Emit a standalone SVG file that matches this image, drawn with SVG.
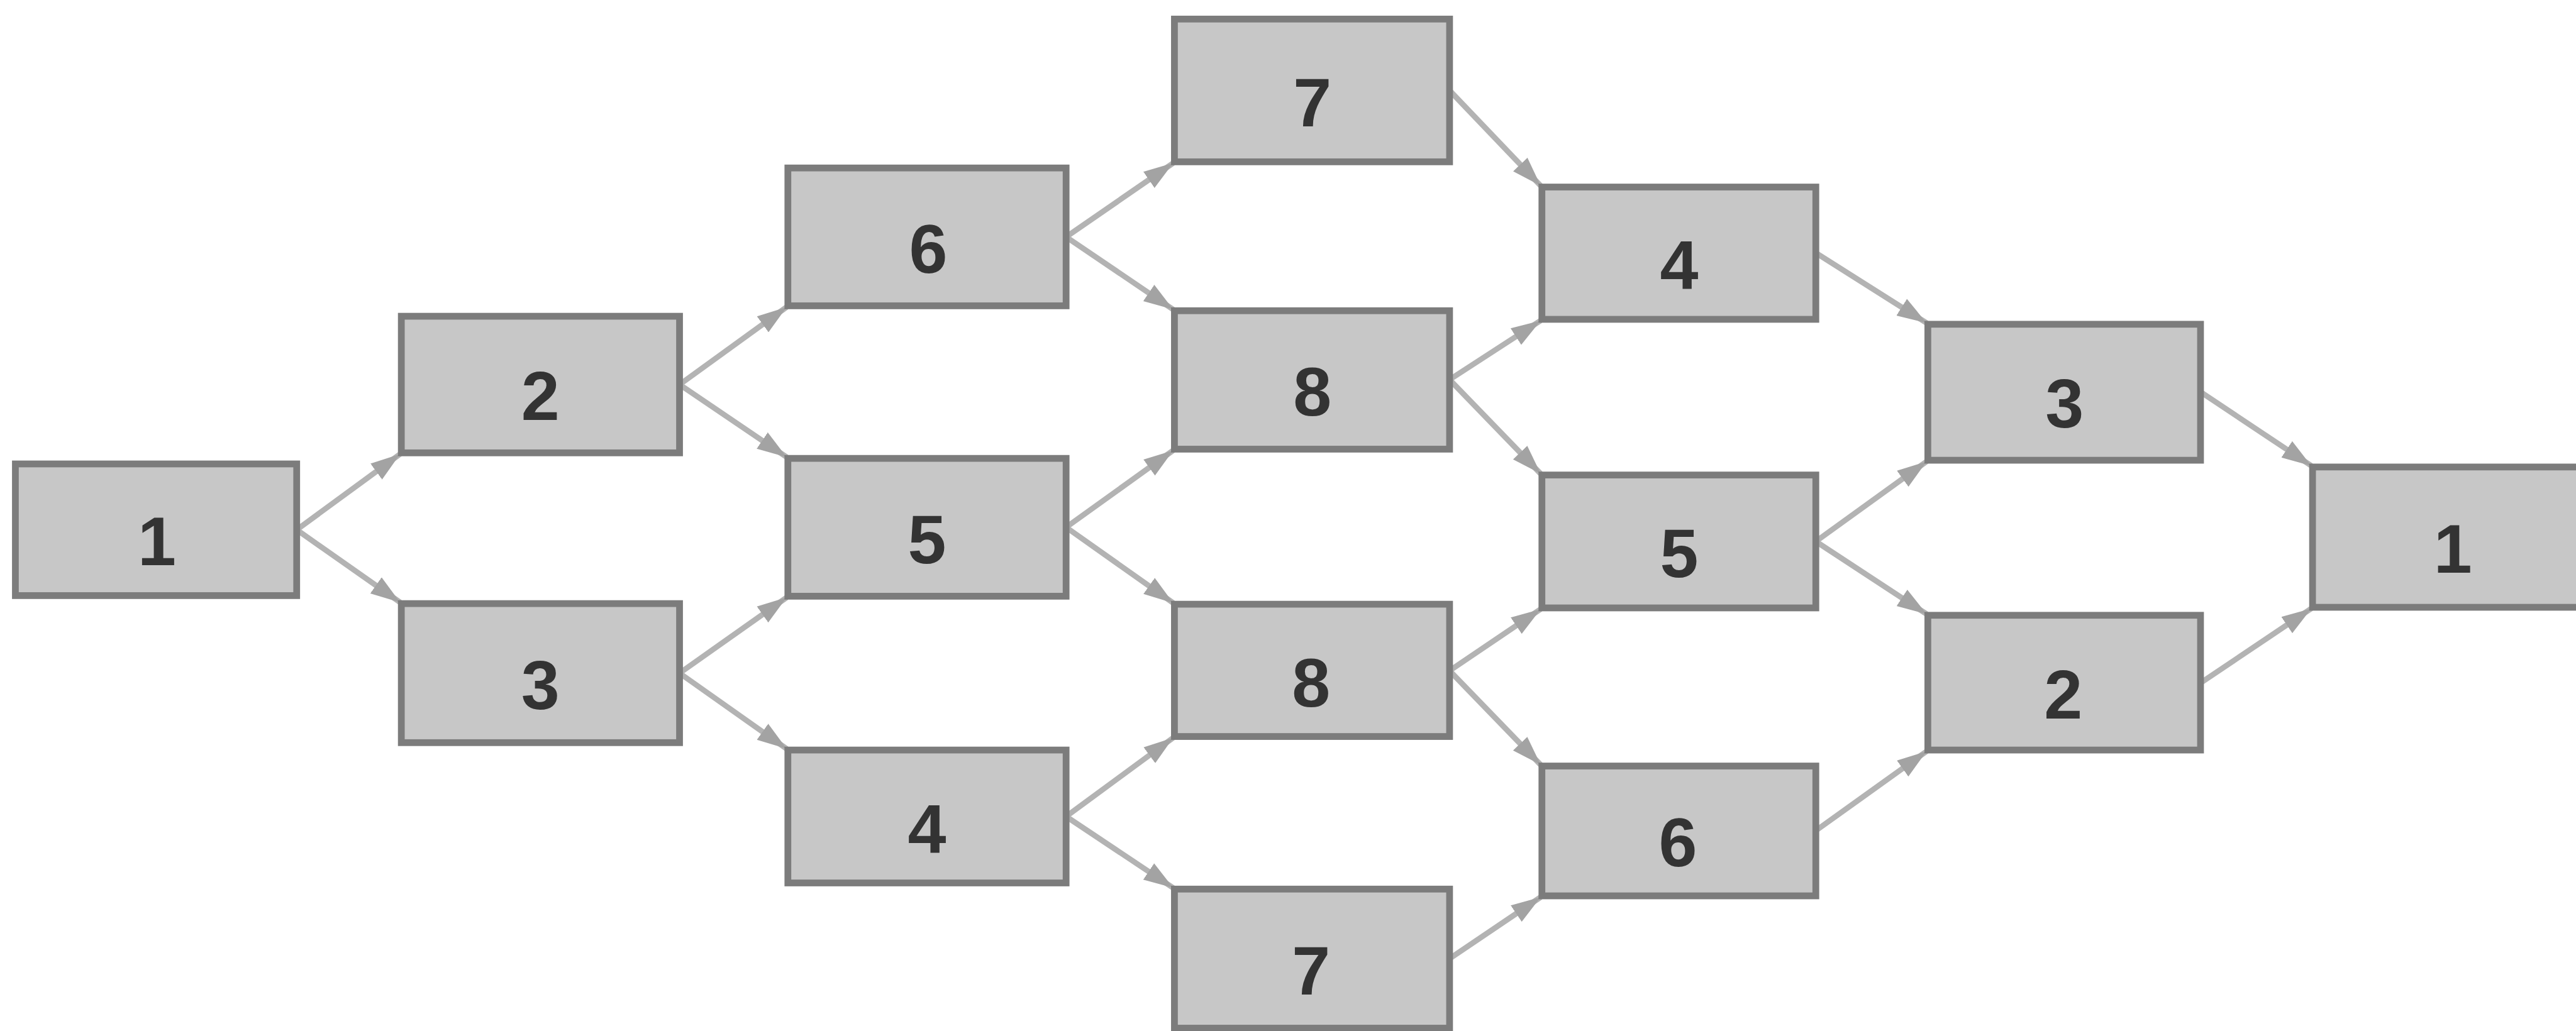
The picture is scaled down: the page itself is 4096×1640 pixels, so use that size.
<svg xmlns="http://www.w3.org/2000/svg" width="4096" height="1640" viewBox="0 0 4096 1640">
  <style>
    .box { fill: #c7c7c7; stroke: #7c7c7c; stroke-width: 11; }
    .lbl { font-family: "Liberation Sans", Arial, sans-serif; font-weight: bold; font-size: 112px; fill: #333333; text-anchor: middle; }
    .edge { stroke: #b3b3b3; stroke-width: 9; fill: none; marker-end: url(#arrow); }
  </style>
  <defs>
    <marker id="arrow" markerUnits="userSpaceOnUse" markerWidth="50" markerHeight="40" viewBox="0 0 50 40" refX="48" refY="20" orient="auto">
      <path d="M0,4 L48,20 L0,36 Z" fill="#a3a3a3"/>
    </marker>
  </defs>
  <rect width="4096" height="1640" fill="#ffffff"/>
  <g transform="scale(0.978733)">
    <g id="connectors">
      <line class="edge" x1="482" y1="861" x2="650" y2="738"/>
      <line class="edge" x1="482" y1="861" x2="650" y2="979"/>
      <line class="edge" x1="1104" y1="625" x2="1278" y2="499"/>
      <line class="edge" x1="1104" y1="625" x2="1278" y2="743"/>
      <line class="edge" x1="1104" y1="1094" x2="1278" y2="971"/>
      <line class="edge" x1="1104" y1="1094" x2="1278" y2="1217"/>
      <line class="edge" x1="1732" y1="385" x2="1906" y2="265"/>
      <line class="edge" x1="1732" y1="385" x2="1906" y2="503"/>
      <line class="edge" x1="1732" y1="857" x2="1906" y2="732"/>
      <line class="edge" x1="1732" y1="857" x2="1906" y2="980"/>
      <line class="edge" x1="1732" y1="1327" x2="1906" y2="1199"/>
      <line class="edge" x1="1732" y1="1327" x2="1906" y2="1443"/>
      <line class="edge" x1="2355" y1="147" x2="2503" y2="302"/>
      <line class="edge" x1="2355" y1="617" x2="2503" y2="521"/>
      <line class="edge" x1="2355" y1="617" x2="2503" y2="770"/>
      <line class="edge" x1="2355" y1="1090" x2="2503" y2="990"/>
      <line class="edge" x1="2355" y1="1090" x2="2503" y2="1243"/>
      <line class="edge" x1="2355" y1="1558" x2="2503" y2="1458"/>
      <line class="edge" x1="2950" y1="411" x2="3130" y2="525"/>
      <line class="edge" x1="2950" y1="880" x2="3130" y2="750"/>
      <line class="edge" x1="2950" y1="880" x2="3130" y2="998"/>
      <line class="edge" x1="2950" y1="1350" x2="3130" y2="1221"/>
      <line class="edge" x1="3575" y1="637" x2="3755" y2="757"/>
      <line class="edge" x1="3575" y1="1110" x2="3755" y2="989"/>
    </g>
    <g id="n1a"><rect class="box" x="25" y="754" width="457" height="214"/><text class="lbl" x="255" y="919">1</text></g>
    <g id="n2a"><rect class="box" x="652" y="514" width="452" height="222"/><text class="lbl" x="878" y="683">2</text></g>
    <g id="n3a"><rect class="box" x="652" y="981" width="452" height="226"/><text class="lbl" x="878" y="1152">3</text></g>
    <g id="n6a"><rect class="box" x="1280" y="273" width="452" height="224"/><text class="lbl" x="1508" y="443">6</text></g>
    <g id="n5a"><rect class="box" x="1280" y="745" width="452" height="224"/><text class="lbl" x="1506" y="915">5</text></g>
    <g id="n4a"><rect class="box" x="1280" y="1219" width="452" height="216"/><text class="lbl" x="1506" y="1385">4</text></g>
    <g id="n7a"><rect class="box" x="1908" y="31" width="447" height="232"/><text class="lbl" x="2132" y="205">7</text></g>
    <g id="n8a"><rect class="box" x="1908" y="505" width="447" height="225"/><text class="lbl" x="2132" y="675">8</text></g>
    <g id="n8b"><rect class="box" x="1908" y="982" width="447" height="215"/><text class="lbl" x="2130" y="1148">8</text></g>
    <g id="n7b"><rect class="box" x="1908" y="1445" width="447" height="226"/><text class="lbl" x="2130" y="1616">7</text></g>
    <g id="n4b"><rect class="box" x="2505" y="304" width="445" height="215"/><text class="lbl" x="2728" y="469">4</text></g>
    <g id="n5b"><rect class="box" x="2505" y="772" width="445" height="216"/><text class="lbl" x="2728" y="938">5</text></g>
    <g id="n6b"><rect class="box" x="2505" y="1245" width="445" height="211"/><text class="lbl" x="2726" y="1408">6</text></g>
    <g id="n3b"><rect class="box" x="3132" y="527" width="443" height="221"/><text class="lbl" x="3354" y="695">3</text></g>
    <g id="n2b"><rect class="box" x="3132" y="1000" width="443" height="219"/><text class="lbl" x="3352" y="1168">2</text></g>
    <g id="n1b"><rect class="box" x="3757" y="759" width="470" height="228"/><text class="lbl" x="3985" y="931">1</text></g>
  </g>
</svg>
